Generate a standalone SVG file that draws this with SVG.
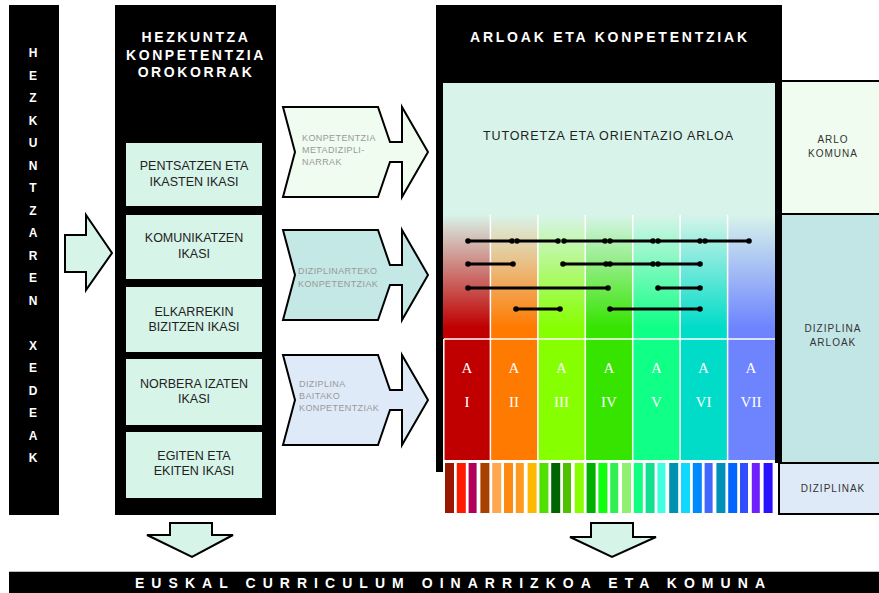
<svg xmlns="http://www.w3.org/2000/svg" width="879" height="593" viewBox="0 0 879 593">
<defs>
<style>
.blk{fill:#000}
.hdr{font-family:"Liberation Sans",Arial,sans-serif;font-weight:bold;fill:#fff}
.vl{font-family:"Liberation Sans",Arial,sans-serif;font-weight:bold;font-size:12px;fill:#fff;text-anchor:middle}
.box{fill:#d7f4e9}
.bt{font-family:"Liberation Sans",Arial,sans-serif;font-size:12.5px;fill:#222;text-anchor:middle}
.arr{stroke:#000;stroke-width:2;stroke-linejoin:miter}
.at{font-family:"Liberation Sans",Arial,sans-serif;font-size:9px;fill:#999;letter-spacing:0.4px}
.rt{font-family:"Liberation Sans",Arial,sans-serif;font-size:10px;fill:#333;text-anchor:middle;letter-spacing:1px}
.rom{font-family:"Liberation Serif","Times New Roman",serif;font-size:15px;fill:#fff;text-anchor:middle}
.seg{stroke:#000;stroke-width:3;fill:none;marker-start:url(#dot);marker-end:url(#dot)}
.wl{stroke:#fff;stroke-width:1.5}
</style>
<marker id="dot" viewBox="0 0 6 6" refX="3" refY="3" markerWidth="6" markerHeight="6" markerUnits="userSpaceOnUse"><circle cx="3" cy="3" r="2.8" fill="#000"/></marker>
<linearGradient id="g1" x1="0" y1="0" x2="0" y2="1"><stop offset="0" stop-color="#d8f4ea"/><stop offset="0.9" stop-color="#c00000"/></linearGradient>
<linearGradient id="g2" x1="0" y1="0" x2="0" y2="1"><stop offset="0" stop-color="#d8f4ea"/><stop offset="0.9" stop-color="#ff7a00"/></linearGradient>
<linearGradient id="g3" x1="0" y1="0" x2="0" y2="1"><stop offset="0" stop-color="#d8f4ea"/><stop offset="0.9" stop-color="#86ff00"/></linearGradient>
<linearGradient id="g4" x1="0" y1="0" x2="0" y2="1"><stop offset="0" stop-color="#d8f4ea"/><stop offset="0.9" stop-color="#36e400"/></linearGradient>
<linearGradient id="g5" x1="0" y1="0" x2="0" y2="1"><stop offset="0" stop-color="#d8f4ea"/><stop offset="0.9" stop-color="#10ff86"/></linearGradient>
<linearGradient id="g6" x1="0" y1="0" x2="0" y2="1"><stop offset="0" stop-color="#d8f4ea"/><stop offset="0.9" stop-color="#00dcc8"/></linearGradient>
<linearGradient id="g7" x1="0" y1="0" x2="0" y2="1"><stop offset="0" stop-color="#d8f4ea"/><stop offset="0.9" stop-color="#6e84ff"/></linearGradient>
</defs>
<rect width="879" height="593" fill="#fff"/>

<g id="xedeak">
<rect class="blk" x="9" y="5" width="50" height="510"/>
<text class="vl" x="33" y="57">H</text>
<text class="vl" x="33" y="79.5">E</text>
<text class="vl" x="33" y="102">Z</text>
<text class="vl" x="33" y="124.5">K</text>
<text class="vl" x="33" y="147">U</text>
<text class="vl" x="33" y="169.5">N</text>
<text class="vl" x="33" y="192">T</text>
<text class="vl" x="33" y="214.5">Z</text>
<text class="vl" x="33" y="237">A</text>
<text class="vl" x="33" y="259.5">R</text>
<text class="vl" x="33" y="282">E</text>
<text class="vl" x="33" y="304.5">N</text>
<text class="vl" x="33" y="349.5">X</text>
<text class="vl" x="33" y="372">E</text>
<text class="vl" x="33" y="394.5">D</text>
<text class="vl" x="33" y="417">E</text>
<text class="vl" x="33" y="439.5">A</text>
<text class="vl" x="33" y="462">K</text>
</g>

<g id="arrow-in">
<polygon class="arr" fill="#d7f4e9" points="65,235 86,235 86,215 112,253 86,290 86,272 65,272"/>
</g>

<g id="orokorrak">
<rect class="blk" x="115" y="5" width="161" height="510"/>
<text class="hdr" x="196" y="42" font-size="14" text-anchor="middle" letter-spacing="2.6">HEZKUNTZA</text>
<text class="hdr" x="196" y="60" font-size="14" text-anchor="middle" letter-spacing="2.6">KONPETENTZIA</text>
<text class="hdr" x="196" y="77" font-size="14" text-anchor="middle" letter-spacing="2.6">OROKORRAK</text>
</g>
<g id="box1"><rect class="box" x="126" y="143" width="136" height="63"/><text class="bt" x="194" y="170">PENTSATZEN ETA</text><text class="bt" x="194" y="186">IKASTEN IKASI</text></g>
<g id="box2"><rect class="box" x="126" y="215" width="136" height="64"/><text class="bt" x="194" y="242">KOMUNIKATZEN</text><text class="bt" x="194" y="258">IKASI</text></g>
<g id="box3"><rect class="box" x="126" y="287" width="136" height="65"/><text class="bt" x="194" y="316">ELKARREKIN</text><text class="bt" x="194" y="331">BIZITZEN IKASI</text></g>
<g id="box4"><rect class="box" x="126" y="359" width="136" height="66"/><text class="bt" x="194" y="388">NORBERA IZATEN</text><text class="bt" x="194" y="403">IKASI</text></g>
<g id="box5"><rect class="box" x="126" y="432" width="136" height="66"/><text class="bt" x="194" y="460">EGITEN ETA</text><text class="bt" x="194" y="475">EKITEN IKASI</text></g>

<g id="chev1">
<polygon class="arr" fill="#effcef" points="283,107 378,107 390,142 402,142 402,107 428,152 402,197 402,162 390,162 378,197 283,197 295,152"/>
<text class="at" x="302" y="141">KONPETENTZIA</text><text class="at" x="302" y="153">METADIZIPLI-</text><text class="at" x="302" y="165">NARRAK</text>
</g>
<g id="chev2">
<polygon class="arr" fill="#c4e8e6" points="283,230 378,230 390,265 402,265 402,230 428,275 402,320 402,285 390,285 378,320 283,320 295,275"/>
<text class="at" x="298" y="274">DIZIPLINARTEKO</text><text class="at" x="298" y="287">KONPETENTZIAK</text>
</g>
<g id="chev3">
<polygon class="arr" fill="#dfeaf8" points="283,355 378,355 390,390 402,390 402,355 428,400 402,445 402,410 390,410 378,445 283,445 295,400"/>
<text class="at" x="299" y="387">DIZIPLINA</text><text class="at" x="299" y="399">BAITAKO</text><text class="at" x="299" y="411">KONPETENTZIAK</text>
</g>

<g id="arloak">
<rect class="blk" x="436" y="5" width="346" height="78"/>
<rect class="blk" x="436" y="5" width="7" height="467"/>
<rect class="blk" x="775" y="5" width="7" height="458"/>
<text class="hdr" x="470" y="42" font-size="14" textLength="277" lengthAdjust="spacing">ARLOAK ETA KONPETENTZIAK</text>
<rect x="443" y="83" width="332" height="135" fill="#d8f4ea"/>
<text x="483" y="140" font-family="Liberation Sans, Arial, sans-serif" font-size="12.5" fill="#222" textLength="250" lengthAdjust="spacing">TUTORETZA ETA ORIENTAZIO ARLOA</text>
<rect x="443" y="214" width="47.4" height="126" fill="url(#g1)"/>
<rect x="490.4" y="214" width="47.5" height="126" fill="url(#g2)"/>
<rect x="537.9" y="214" width="47.4" height="126" fill="url(#g3)"/>
<rect x="585.3" y="214" width="47.4" height="126" fill="url(#g4)"/>
<rect x="632.7" y="214" width="47.4" height="126" fill="url(#g5)"/>
<rect x="680.1" y="214" width="47.5" height="126" fill="url(#g6)"/>
<rect x="727.6" y="214" width="47.4" height="126" fill="url(#g7)"/>
<rect x="443" y="339" width="47.4" height="121" fill="#c00000"/>
<rect x="490.4" y="339" width="47.5" height="121" fill="#ff7a00"/>
<rect x="537.9" y="339" width="47.4" height="121" fill="#86ff00"/>
<rect x="585.3" y="339" width="47.4" height="121" fill="#36e400"/>
<rect x="632.7" y="339" width="47.4" height="121" fill="#10ff86"/>
<rect x="680.1" y="339" width="47.5" height="121" fill="#00dcc8"/>
<rect x="727.6" y="339" width="47.4" height="121" fill="#6e84ff"/>
<line class="wl" x1="490.4" y1="215" x2="490.4" y2="460"/>
<line class="wl" x1="537.9" y1="215" x2="537.9" y2="460"/>
<line class="wl" x1="585.3" y1="215" x2="585.3" y2="460"/>
<line class="wl" x1="632.7" y1="215" x2="632.7" y2="460"/>
<line class="wl" x1="680.1" y1="215" x2="680.1" y2="460"/>
<line class="wl" x1="727.6" y1="215" x2="727.6" y2="460"/>
<line class="wl" x1="444" y1="339" x2="775" y2="339" stroke-width="2"/>
<line class="wl" x1="443.8" y1="339" x2="443.8" y2="460"/>
<text class="rom" x="467" y="373">A</text><text class="rom" x="467" y="407">I</text>
<text class="rom" x="514" y="373">A</text><text class="rom" x="514" y="407">II</text>
<text class="rom" x="561.5" y="373">A</text><text class="rom" x="561.5" y="407">III</text>
<text class="rom" x="609" y="373">A</text><text class="rom" x="609" y="407">IV</text>
<text class="rom" x="656.5" y="373">A</text><text class="rom" x="656.5" y="407">V</text>
<text class="rom" x="703.5" y="373">A</text><text class="rom" x="703.5" y="407">VI</text>
<text class="rom" x="751" y="373">A</text><text class="rom" x="751" y="407">VII</text>
</g>

<g id="connectors">
<line class="seg" x1="468" y1="241" x2="512" y2="241"/>
<line class="seg" x1="517" y1="241" x2="558" y2="241"/>
<line class="seg" x1="564" y1="241" x2="605" y2="241"/>
<line class="seg" x1="610" y1="241" x2="653" y2="241"/>
<line class="seg" x1="658" y1="241" x2="700" y2="241"/>
<line class="seg" x1="705" y1="241" x2="749" y2="241"/>
<line class="seg" x1="468" y1="264" x2="513" y2="264"/>
<line class="seg" x1="563" y1="264" x2="606" y2="264"/>
<line class="seg" x1="610" y1="264" x2="653" y2="264"/>
<line class="seg" x1="658" y1="264" x2="700" y2="264"/>
<line class="seg" x1="468" y1="288" x2="608" y2="288"/>
<line class="seg" x1="658" y1="288" x2="700" y2="288"/>
<line class="seg" x1="516" y1="309" x2="560" y2="309"/>
<line class="seg" x1="610" y1="309" x2="700" y2="309"/>
</g>

<g id="diziplinak-bars">
<rect x="445" y="463" width="9" height="50" fill="#9a1800"/>
<rect x="456.8" y="463" width="9" height="50" fill="#ff1a00"/>
<rect x="468.6" y="463" width="8" height="50" fill="#b0005a"/>
<rect x="480.4" y="463" width="9" height="50" fill="#a84000"/>
<rect x="492.2" y="463" width="9" height="50" fill="#ffa850"/>
<rect x="504" y="463" width="9" height="50" fill="#ff8a10"/>
<rect x="515.8" y="463" width="8" height="50" fill="#ff9a20"/>
<rect x="527.6" y="463" width="9" height="50" fill="#ffb800"/>
<rect x="539.4" y="463" width="9" height="50" fill="#50e000"/>
<rect x="551.2" y="463" width="9" height="50" fill="#006400"/>
<rect x="563" y="463" width="8" height="50" fill="#50c000"/>
<rect x="574.8" y="463" width="9" height="50" fill="#88ff00"/>
<rect x="586.6" y="463" width="9" height="50" fill="#00b000"/>
<rect x="598.4" y="463" width="9" height="50" fill="#10ff10"/>
<rect x="610.2" y="463" width="8" height="50" fill="#30f050"/>
<rect x="622" y="463" width="9" height="50" fill="#90f070"/>
<rect x="633.8" y="463" width="9" height="50" fill="#10ff80"/>
<rect x="645.6" y="463" width="9" height="50" fill="#10e090"/>
<rect x="657.4" y="463" width="8" height="50" fill="#40ffe0"/>
<rect x="669.2" y="463" width="9" height="50" fill="#0090b0"/>
<rect x="681" y="463" width="9" height="50" fill="#10d8ff"/>
<rect x="692.8" y="463" width="9" height="50" fill="#0088ff"/>
<rect x="704.6" y="463" width="8" height="50" fill="#4466ff"/>
<rect x="716.4" y="463" width="9" height="50" fill="#0090b8"/>
<rect x="728.2" y="463" width="9" height="50" fill="#0066ff"/>
<rect x="740" y="463" width="8" height="50" fill="#3050ff"/>
<rect x="751.8" y="463" width="8" height="50" fill="#7020ff"/>
<rect x="763.6" y="463" width="9" height="50" fill="#2a10ff"/>
</g>

<g id="arlo-komuna">
<rect x="782" y="81" width="97" height="133" fill="#effcef"/>
<line x1="782" y1="81" x2="879" y2="81" stroke="#000" stroke-width="2"/>
<text class="rt" x="833" y="143">ARLO</text><text class="rt" x="833" y="157">KOMUNA</text>
</g>
<g id="diziplina-arloak">
<rect x="782" y="214" width="97" height="249" fill="#c2e6e6"/>
<line x1="782" y1="214" x2="879" y2="214" stroke="#000" stroke-width="2"/>
<text class="rt" x="833" y="332">DIZIPLINA</text><text class="rt" x="833" y="346">ARLOAK</text>
</g>
<g id="diziplinak">
<rect x="779" y="463" width="101" height="51" fill="#dfeaf8" stroke="#000" stroke-width="2"/>
<text class="rt" x="833" y="492">DIZIPLINAK</text>
</g>

<g id="arrow-down-1">
<polygon class="arr" fill="#d7f4e9" points="170,523 212,523 212,535 233,535 192,557 147,535 170,535"/>
</g>
<g id="arrow-down-2">
<polygon class="arr" fill="#d7f4e9" points="591,523 633,523 633,537 656,537 612,557 570,537 591,537"/>
</g>

<g id="oinarrizkoa">
<line x1="9" y1="571.5" x2="879" y2="571.5" stroke="#bbb" stroke-width="1"/>
<rect class="blk" x="9" y="572" width="870" height="21"/>
<text class="hdr" x="135" y="588" font-size="14" textLength="630" lengthAdjust="spacing">EUSKAL CURRICULUM OINARRIZKOA ETA KOMUNA</text>
</g>
</svg>
